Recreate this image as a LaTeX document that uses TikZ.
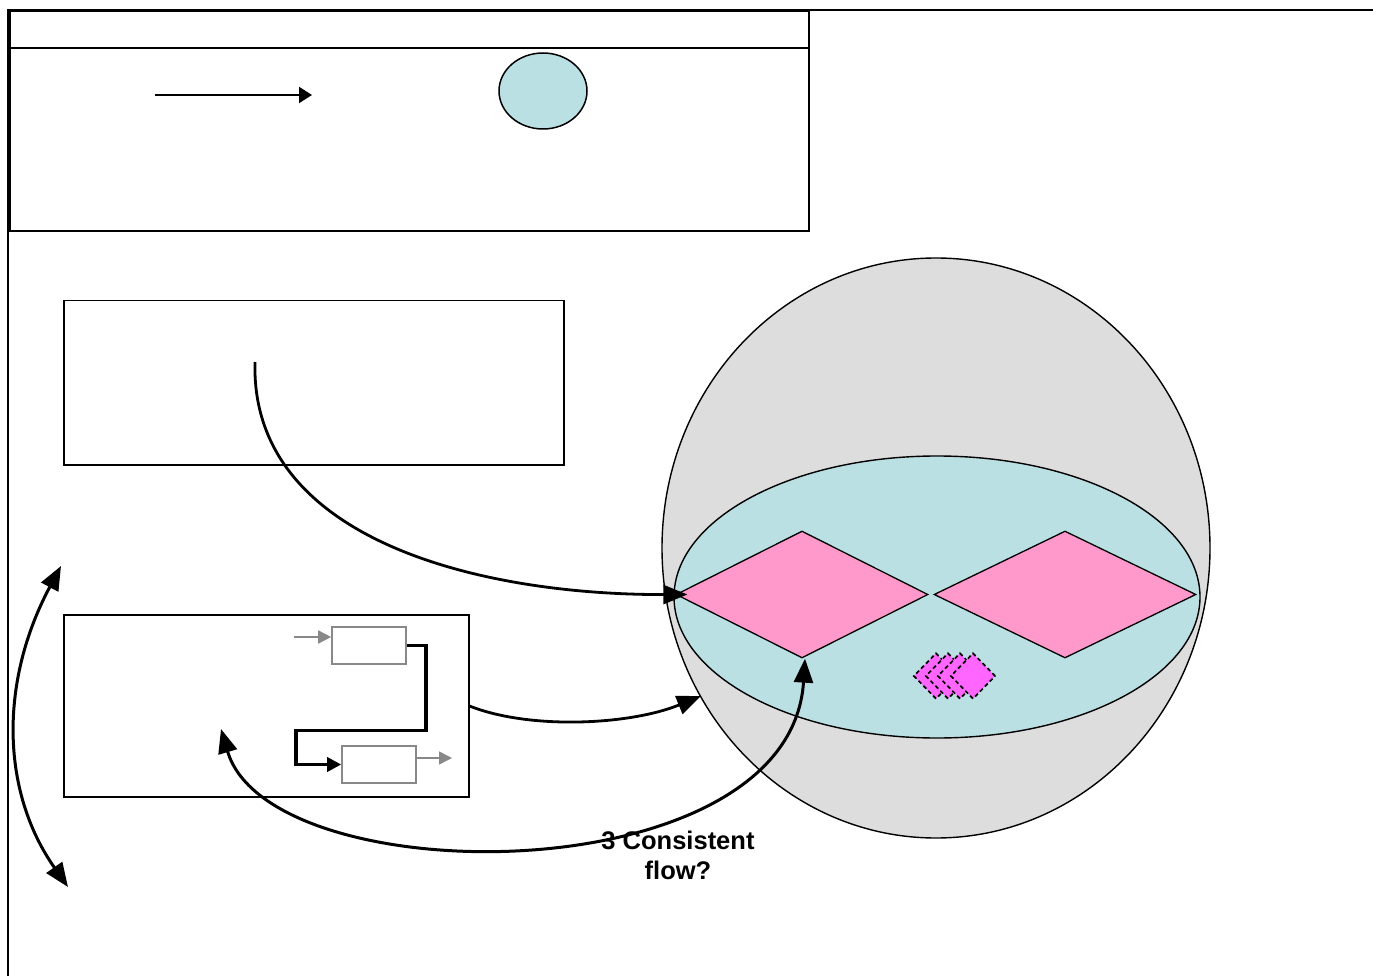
\documentclass[tikz,border=0pt]{standalone}
\usepackage{fontspec}
\setmainfont{Liberation Sans}
\usetikzlibrary{arrows.meta,shapes.geometric}
\definecolor{shellgrey}{HTML}{DDDDDD}
\definecolor{paleblue}{HTML}{BBE0E3}
\definecolor{rosepink}{HTML}{FF99CC}
\definecolor{brightpink}{HTML}{FF66FF}
\definecolor{stepgrey}{HTML}{888888}
\begin{document}
\begin{tikzpicture}[x=1pt,y=-1pt,
  panel/.style={draw, line width=1.5pt, anchor=north west, inner sep=0pt},
  stepbox/.style={draw=stepgrey, line width=1.6pt, minimum width=74pt, minimum height=37pt, inner sep=0pt},
  flow/.style={line width=2.8pt, -{Triangle[length=24pt,width=19pt]}},
  twoway/.style={line width=3pt, {Triangle[length=24pt,width=19pt]}-{Triangle[length=24pt,width=19pt]}},
  pipe/.style={line width=3.8pt, -{Triangle[length=14pt,width=14pt]}},
  greyflow/.style={draw=stepgrey, line width=1.6pt, -{Triangle[length=13pt,width=13pt]}},
  zone/.style={diamond, draw, line width=1.3pt, fill=rosepink, minimum height=127pt, inner sep=0pt},
  spot/.style={diamond, draw, dash pattern=on 4pt off 3pt, line width=1.7pt, fill=brightpink, minimum width=45pt, minimum height=46pt, inner sep=0pt},
]
\useasboundingbox (0,0) rectangle (1373,976);

% page frame
\draw[line width=1.3pt] (8,976) -- (8,10) -- (1373,10);

% legend panel with header strip
\node[panel, line width=2pt, minimum width=799pt, minimum height=220pt] (legend) at (9,10) {};
\coordinate (hdl) at (9,48);
\draw[line width=1.8pt] (hdl) -- (hdl -| legend.east);
\coordinate (la) at (155,95);
\coordinate (lb) at (312,95);
\draw[line width=2.2pt, -{Triangle[length=13pt,width=16pt]}] (la) -- (lb);
\node[ellipse, draw, line width=1.5pt, fill=paleblue, minimum width=88pt, minimum height=76pt, inner sep=0pt] (legendpool) at (543,91) {};

% upper block
\node[panel, minimum width=500pt, minimum height=164pt] (upper) at (63,300) {};
% lower block
\node[panel, minimum width=405pt, minimum height=182pt] (lower) at (63,614) {};

% two-step process inside the lower block
\node[stepbox] (p1) at (369,645.5) {};
\node[stepbox] (p2) at (379,764.5) {};
\coordinate (pin) at (294,637);
\draw[greyflow] (pin) -- (pin -| p1.west);
\coordinate (pout) at (452,758);
\draw[greyflow] (pout -| p2.east) -- (pout);
\draw[pipe] (p1.east) -- ++(19,0) -- ++(0,85) -- ++(-130,0) |- (p2.west);

% sphere with its pool
\node[ellipse, draw, line width=1.4pt, fill=shellgrey, minimum width=548pt, minimum height=580pt, inner sep=0pt] (sphere) at (936,548) {};
\node[ellipse, draw, line width=1.4pt, fill=paleblue, minimum width=526pt, minimum height=282pt, inner sep=0pt] (pool) at (937,597) {};
\node[zone, minimum width=252pt] (d1) at (802,594.5) {};
\node[zone, minimum width=262pt] (d2) at (1065,594.5) {};
\node[spot] (s1) at (936,676) {};
\node[spot] (s2) at (948,676) {};
\node[spot] (s3) at (960,676) {};
\node[spot] (s4) at (973,676) {};

% connectors
\coordinate (ustart) at (255,362);
\draw[flow] (ustart) .. controls (250,540) and (480,595) .. ([xshift=12pt]d1.west);
\coordinate (lstart) at (lower.east |- 0,706);
\coordinate (lend) at (701,696);
\draw[flow] (lstart) .. controls (530,730) and (630,725) .. (lend);
\coordinate (loopend) at (221,729);
\draw[twoway] (loopend) .. controls (270,895) and (790,895) .. ([xshift=3pt]d1.south);
\coordinate (sidetop) at (61,566);
\coordinate (sidebot) at (68,887);
\draw[twoway] (sidetop) .. controls (0,680) and (0,790) .. (sidebot);

% caption
\node[font=\bfseries\fontsize{25.5}{30}\selectfont, align=center, inner sep=0pt] (question) at (678,855) {3 Consistent\\flow?};
\end{tikzpicture}
\end{document}
